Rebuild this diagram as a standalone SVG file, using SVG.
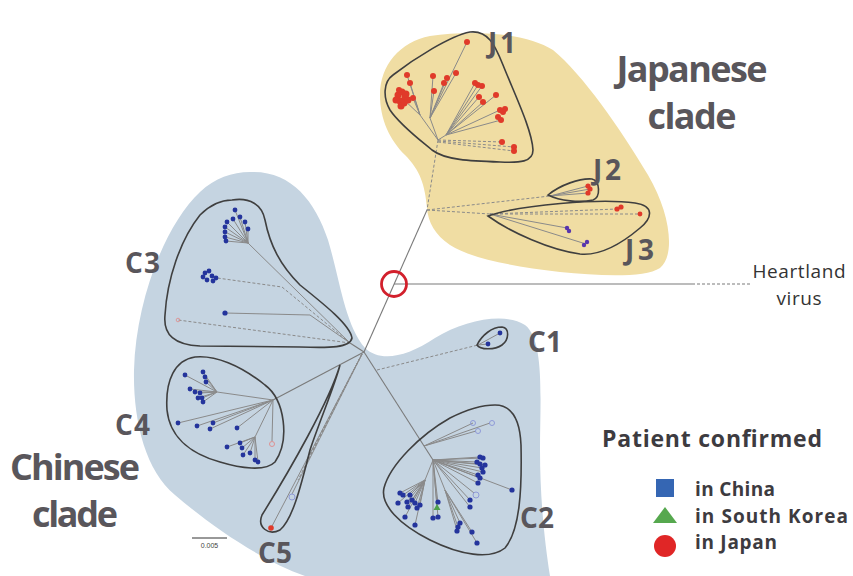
<svg xmlns="http://www.w3.org/2000/svg" width="853" height="576" viewBox="0 0 853 576">
<style>
.lbl{font-family:"Open Sans","Noto Sans",sans-serif;font-weight:700;fill:#59565b}
.big{font-size:36px}
.cl{font-size:28px}
.leg{font-family:"Open Sans","Noto Sans",sans-serif;font-weight:700;fill:#3d3b40;font-size:19px}
.hv{font-family:"Open Sans","Noto Sans",sans-serif;font-size:19px;fill:#333}
.ol{fill:none;stroke:#3f3f3f;stroke-width:1.6}
.br{fill:none;stroke:#8a8a8a;stroke-width:1}
.bd{fill:none;stroke:#8a8a8a;stroke-width:1;stroke-dasharray:3 2}
.main{fill:none;stroke:#7a7a7a;stroke-width:1.1}
.r circle{fill:#e03a2a}
.b circle{fill:#24349c}
.p circle{fill:#5836ad}
</style>

<g id="regions">
<path id="japanese-region" d="M380,95 C380,65 400,42 430,36 C470,30 525,32 553,50 C583,75 620,128 648,175 C670,212 676,255 660,268 C645,278 600,276 560,272 C510,266 470,258 450,245 C435,235 428,222 427,208 C425,185 420,170 405,155 C390,140 380,120 380,95 Z" fill="#f0dda3"/>
<path id="chinese-region" d="M250,172 C290,170 315,200 328,240 C340,280 345,325 365,348 C380,362 405,358 435,338 C465,320 505,312 525,325 C545,340 540,400 540,450 C540,500 545,545 550,576 L305,576 C260,560 210,525 175,495 C145,470 133,420 134,370 C136,300 165,225 200,192 C215,178 232,172 250,172 Z" fill="#c5d4e1"/>
</g>

<g id="connectors">
<path class="main" d="M427,210 L364,352"/>
<path class="bd" d="M438,140 L427,210"/>
<path class="main" d="M394,284 L692,284"/>
<path class="main" d="M692,284 L750,284" stroke-dasharray="3 2"/>
<path class="br" d="M438,140 L430,118 M430,118 L467,42 M430,118 L433,76 M430,118 L434,91 M430,118 L444,83 M430,118 L447,78 M430,118 L456,73"/>
<path class="br" d="M438,140 L420,115 M420,115 L402,98 M420,115 L413,98 M420,115 L407,75 M420,115 L410,83"/>
<path class="br" d="M438,140 L446,135 M446,135 L475,83 M446,135 L478,85 M446,135 L482,86 M446,135 L479,97 M446,135 L483,102 M446,135 L496,95 M446,135 L500,110 M446,135 L501,120"/>
<path class="bd" d="M438,140 L502,142 M438,141 L514,147 M438,142 L514,151"/>
<path class="bd" d="M427,210 L550,196 M427,210 L490,214"/>
<path class="br" d="M550,196 L588,186 M550,196 L590,189 M550,196 L588,193"/>
<path class="bd" d="M490,214 L617,209 M490,214 L640,214" stroke-dasharray="7 3"/>
<path class="br" d="M490,214 L567,228 M490,214 L586,244"/>
<path class="bd" d="M377,370 L478,345"/>
<path class="br" d="M478,345 L488,344 M478,345 L500,333"/>
<path class="main" d="M364,352 L350,343"/>
<path class="br" d="M350,343 L248,243"/>
<path class="br" d="M248,243 L235,210 M248,243 L227,222 M248,243 L233,219 M248,243 L240,217 M248,243 L245,222 M248,243 L248,229 M248,243 L225,227 M248,243 L225,232 M248,243 L225,237 M248,243 L226,241"/>
<path class="bd" d="M350,343 L282,287 L210,277"/>
<path class="br" d="M350,343 L310,315 L225,313" stroke-width="1.4"/>
<path class="bd" d="M350,343 L178,320" stroke="#c88"/>
<path class="main" d="M364,352 L273,400"/>
<path class="br" d="M273,400 L217,392 M217,392 L185,375 M217,392 L203,372 M217,392 L205,377 M217,392 L206,382 M217,392 L190,389 M217,392 L195,392 M217,392 L200,393 M217,392 L202,398 M217,392 L203,402 M217,392 L198,398"/>
<path class="br" d="M273,400 L178,423 M273,400 L197,426 M273,400 L213,423 M273,400 L210,429 M273,400 L237,428"/>
<path class="br" d="M273,400 L255,437 M255,437 L227,447 M255,437 L240,443 M255,437 L242,448 M255,437 L243,455 M255,437 L250,453 M255,437 L255,460 M255,437 L258,462"/>
<path class="br" d="M273,400 L272,441"/>
<path class="br" d="M362,354 L271,528 M362,354 L292,494"/>
<path class="bd" d="M362,354 L298,480 M362,354 L303,470 M362,354 L307,460"/>
<path class="main" d="M364,352 L433,460"/>
<path class="br" d="M424,446 L473,423 M424,446 L490,423 M424,446 L476,431"/>
<path class="br" d="M433,460 L480,457 M433,460 L483,458 M433,460 L477,462 M433,460 L480,464 M433,460 L485,465 M433,460 L482,468 M433,460 L483,472 M433,460 L478,475 M433,460 L480,478 M433,460 L478,483 M433,460 L512,490"/>
<path class="br" d="M433,460 L474,493 M433,460 L470,500 M433,460 L470,507"/>
<path class="br" d="M433,460 L425,480 M425,480 L400,493 M425,480 L403,495 M425,480 L398,503 M425,480 L407,502 M425,480 L410,495 M425,480 L412,500 M425,480 L415,503 M425,480 L420,505 M425,480 L417,508 M425,480 L408,507 M425,480 L405,517 M425,480 L415,525"/>
<path class="br" d="M433,460 L438,503 M433,460 L437,507 M433,460 L433,518 M433,460 L438,517"/>
<path class="br" d="M433,460 L445,490 M445,490 L460,523 M445,490 L458,527 M445,490 L457,530 M445,490 L472,532 M445,490 L477,543"/>
</g>

<g id="J1">
<path class="ol" d="M470,32 C488,30 495,45 503,65 C515,95 532,130 533,150 C533,162 520,163 500,162 C470,161 445,160 432,150 C420,140 400,125 390,110 C383,98 383,82 393,75 C415,58 450,36 470,32 Z"/>
<g class="r">
<circle cx="467" cy="42" r="3"/><circle cx="407" cy="75" r="3"/><circle cx="410" cy="83" r="3"/><circle cx="413" cy="98" r="3"/>
<circle cx="433" cy="76" r="3"/><circle cx="434" cy="91" r="3"/><circle cx="444" cy="83" r="3"/><circle cx="447" cy="78" r="3"/><circle cx="456" cy="73" r="3"/>
<circle cx="475" cy="83" r="3"/><circle cx="478" cy="85" r="3"/><circle cx="482" cy="86" r="3"/><circle cx="479" cy="97" r="3"/><circle cx="483" cy="102" r="3"/><circle cx="496" cy="95" r="3"/>
<circle cx="500" cy="110" r="3"/><circle cx="503" cy="112" r="3"/><circle cx="505" cy="109" r="3"/><circle cx="498" cy="117" r="3"/><circle cx="501" cy="120" r="3"/>
<circle cx="502" cy="142" r="3"/><circle cx="514" cy="147" r="3"/><circle cx="514" cy="151" r="3"/>
<circle cx="398" cy="95" r="3.5"/><circle cx="402" cy="92" r="3.5"/><circle cx="405" cy="97" r="3.5"/><circle cx="400" cy="101" r="3.5"/><circle cx="404" cy="103" r="3.5"/><circle cx="408" cy="100" r="3.5"/><circle cx="396" cy="100" r="3.5"/><circle cx="401" cy="106" r="3.5"/><circle cx="406" cy="94" r="3.5"/><circle cx="399" cy="90" r="3"/>
</g>
<text class="lbl cl" x="488" y="53" textLength="28">J1</text>
</g>

<g id="J2">
<path class="ol" d="M548,195 C560,185 580,178 592,179 C600,181 601,197 593,200 C580,203 560,201 548,195 Z"/>
<g class="r"><circle cx="588" cy="186" r="2.6"/><circle cx="590" cy="189" r="2.6"/><circle cx="588" cy="193" r="2.6"/></g>
<text class="lbl cl" x="593" y="180" textLength="28">J2</text>
</g>

<g id="J3">
<path class="ol" d="M488,216 C520,205 600,198 635,203 C655,206 652,218 640,228 C620,245 600,256 580,254 C550,250 510,232 488,216 Z"/>
<g class="r"><circle cx="617" cy="209" r="2.6"/><circle cx="621" cy="207" r="2.6"/><circle cx="640" cy="214" r="2.4"/></g>
<g class="p"><circle cx="567" cy="228" r="2.2"/><circle cx="569" cy="231" r="2.2"/><circle cx="584" cy="245" r="2.2"/><circle cx="587" cy="242" r="2.2"/></g>
<text class="lbl cl" x="625" y="260" textLength="29">J3</text>
</g>

<g id="C1">
<path class="ol" d="M477,345 C482,335 492,327 502,327 C510,328 509,340 502,345 C495,350 480,350 477,345 Z"/>
<g class="b"><circle cx="500" cy="333" r="2.4"/><circle cx="488" cy="344" r="2.4"/></g>
<text class="lbl cl" x="528" y="352" textLength="34">C1</text>
</g>

<g id="C2">
<path class="ol" d="M495,405 C512,405 520,420 521,445 C522,490 520,530 505,548 C490,560 460,555 430,540 C400,525 380,505 384,488 C390,465 420,435 450,418 C470,408 485,405 495,405 Z"/>
<g fill="none" stroke="#8f9ad8" stroke-width="1"><circle cx="473" cy="423" r="2.5"/><circle cx="492" cy="423" r="2.5"/><circle cx="478" cy="431" r="2.5"/><circle cx="476" cy="495" r="3"/></g>
<g class="b">
<circle cx="480" cy="457" r="2.6"/><circle cx="483" cy="458" r="2.6"/><circle cx="477" cy="462" r="2.6"/><circle cx="480" cy="464" r="2.6"/><circle cx="485" cy="465" r="2.6"/><circle cx="482" cy="468" r="2.6"/><circle cx="483" cy="472" r="2.6"/><circle cx="478" cy="475" r="2.6"/><circle cx="480" cy="478" r="2.6"/><circle cx="478" cy="483" r="2.6"/><circle cx="512" cy="490" r="2.6"/>
<circle cx="470" cy="500" r="2.6"/><circle cx="470" cy="507" r="2.6"/>
<circle cx="400" cy="493" r="2.6"/><circle cx="403" cy="495" r="2.6"/><circle cx="398" cy="503" r="2.6"/><circle cx="407" cy="502" r="2.6"/><circle cx="410" cy="495" r="2.6"/><circle cx="412" cy="500" r="2.6"/><circle cx="415" cy="503" r="2.6"/><circle cx="420" cy="505" r="2.6"/><circle cx="417" cy="508" r="2.6"/><circle cx="408" cy="507" r="2.6"/><circle cx="405" cy="517" r="2.6"/><circle cx="415" cy="525" r="2.6"/>
<circle cx="438" cy="502" r="2.6"/><circle cx="433" cy="518" r="2.6"/><circle cx="438" cy="517" r="2.6"/>
<circle cx="460" cy="523" r="2.6"/><circle cx="458" cy="527" r="2.6"/><circle cx="457" cy="531" r="2.6"/><circle cx="472" cy="532" r="2.6"/><circle cx="477" cy="543" r="2.6"/>
</g>
<polygon points="437,504 440.5,510 433.5,510" fill="#4ea04a"/>
<text class="lbl cl" x="520" y="528" textLength="34">C2</text>
</g>

<g id="C3">
<path class="ol" d="M232,200 C250,197 262,205 265,220 C270,245 280,265 300,285 C325,305 350,325 352,338 C350,348 330,348 300,347 L200,346 C175,345 163,335 165,315 C167,280 180,240 200,215 C210,205 222,200 232,200 Z"/>
<g class="b">
<circle cx="235" cy="210" r="2.4"/><circle cx="227" cy="222" r="2.4"/><circle cx="233" cy="219" r="2.4"/><circle cx="240" cy="217" r="2.4"/><circle cx="245" cy="222" r="2.4"/><circle cx="248" cy="229" r="2.4"/><circle cx="225" cy="227" r="2.4"/><circle cx="225" cy="232" r="2.4"/><circle cx="225" cy="237" r="2.4"/><circle cx="226" cy="241" r="2.4"/>
<circle cx="205" cy="273" r="2.4"/><circle cx="209" cy="271" r="2.4"/><circle cx="212" cy="276" r="2.4"/><circle cx="207" cy="280" r="2.4"/><circle cx="213" cy="281" r="2.4"/><circle cx="216" cy="278" r="2.4"/><circle cx="203" cy="277" r="2.4"/>
<circle cx="225" cy="313" r="2.6"/>
</g>
<circle cx="178" cy="320" r="1.8" fill="none" stroke="#e08a8a" stroke-width="0.8"/>
<text class="lbl cl" x="125" y="273" textLength="35">C3</text>
</g>

<g id="C4">
<path class="ol" d="M195,357 C215,355 240,365 265,385 C285,400 290,440 275,462 C265,472 240,468 220,462 C195,455 170,440 167,410 C165,380 175,360 195,357 Z"/>
<g class="b">
<circle cx="185" cy="375" r="2.4"/><circle cx="203" cy="372" r="2.4"/><circle cx="205" cy="377" r="2.4"/><circle cx="206" cy="382" r="2.4"/><circle cx="190" cy="389" r="2.4"/><circle cx="195" cy="392" r="2.4"/><circle cx="200" cy="393" r="2.4"/><circle cx="202" cy="398" r="2.4"/><circle cx="203" cy="402" r="2.4"/><circle cx="198" cy="398" r="2.4"/>
<circle cx="178" cy="423" r="2.4"/><circle cx="197" cy="426" r="2.4"/><circle cx="213" cy="423" r="2.4"/><circle cx="210" cy="429" r="2.4"/><circle cx="237" cy="428" r="2.4"/>
<circle cx="227" cy="447" r="2.4"/><circle cx="240" cy="443" r="2.4"/><circle cx="242" cy="448" r="2.4"/><circle cx="243" cy="455" r="2.4"/><circle cx="250" cy="453" r="2.4"/><circle cx="255" cy="460" r="2.4"/><circle cx="258" cy="462" r="2.4"/>
</g>
<circle cx="272" cy="444" r="2.5" fill="none" stroke="#e08a8a" stroke-width="0.9"/>
<text class="lbl cl" x="115" y="435" textLength="35">C4</text>
</g>

<g id="C5">
<path class="ol" d="M340,365 C330,400 290,470 262,515 C257,527 268,536 280,530 C292,520 300,490 310,450 C320,420 335,385 340,365 Z"/>
<circle cx="271" cy="528" r="2.8" fill="#e03a2a"/>
<circle cx="292" cy="497" r="3" fill="none" stroke="#8f9ad8" stroke-width="1"/>
<text class="lbl cl" x="258" y="563" textLength="34">C5</text>
</g>

<g id="heartland">
<circle cx="394" cy="284" r="12.5" fill="none" stroke="#d2202c" stroke-width="2.8"/>
<text class="hv" x="799" y="278" text-anchor="middle" textLength="93">Heartland</text>
<text class="hv" x="799" y="305" text-anchor="middle" textLength="45">virus</text>
</g>

<g id="clade-labels">
<text class="lbl big" x="692" y="82" text-anchor="middle" textLength="151">Japanese</text>
<text class="lbl big" x="692" y="129" text-anchor="middle" textLength="89">clade</text>
<text class="lbl big" x="75" y="480" text-anchor="middle" textLength="130">Chinese</text>
<text class="lbl big" x="75" y="527" text-anchor="middle" textLength="86">clade</text>
</g>

<g id="scale-bar">
<line x1="192" y1="538" x2="227" y2="538" stroke="#333" stroke-width="1"/>
<text x="209.5" y="548" text-anchor="middle" font-family="Liberation Sans, sans-serif" font-size="7" fill="#444">0.005</text>
</g>

<g id="legend">
<text class="leg" x="602" y="447" style="font-size:23px" textLength="220">Patient confirmed</text>
<rect x="656" y="479" width="18" height="18" fill="#3566b3"/>
<text class="leg" x="695" y="496" textLength="80">in China</text>
<polygon points="665,507 677,523 653,523" fill="#56a84e"/>
<text class="leg" x="695" y="523" textLength="153">in South Korea</text>
<circle cx="665" cy="546" r="11" fill="#e02626"/>
<text class="leg" x="695" y="549" textLength="82">in Japan</text>
</g>
</svg>
